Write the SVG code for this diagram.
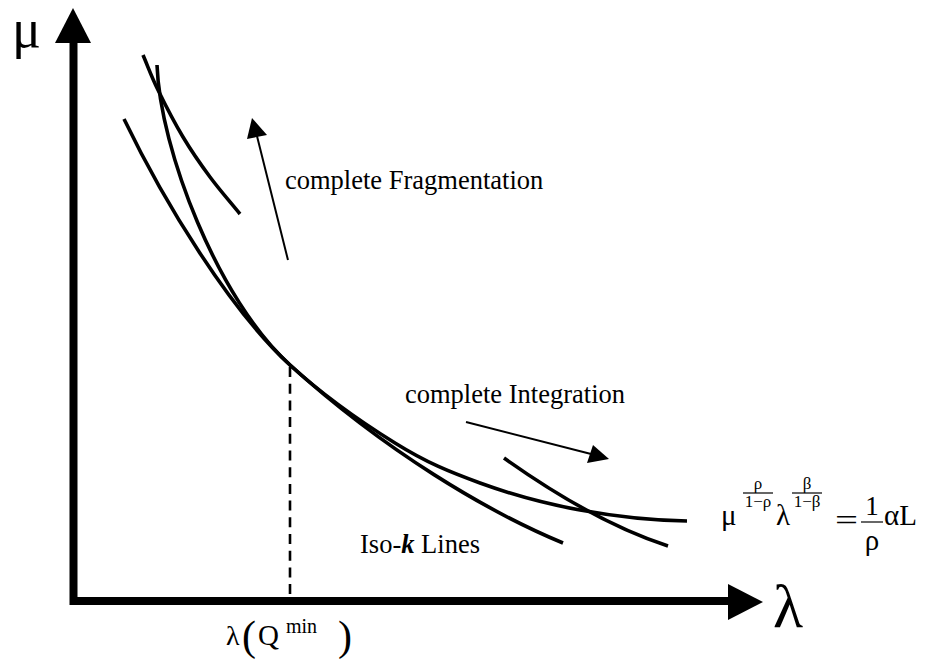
<svg xmlns="http://www.w3.org/2000/svg" width="930" height="659" viewBox="0 0 930 659">
<style>
.t{font-family:"Liberation Serif","Times New Roman",serif;fill:#000}
.crv{fill:none;stroke:#000;stroke-width:3.6;stroke-linecap:butt}
.ax{fill:none;stroke:#000;stroke-width:8}
.thin{fill:none;stroke:#000;stroke-width:2}
.bar{stroke:#000;stroke-width:1.2}
</style>
<rect width="930" height="659" fill="#fff"/>
<g id="axes">
<path class="ax" d="M73.5,43 V605 M70,601 H730"/>
<polygon points="73,8 55,43 91,43" fill="#000"/>
<polygon points="763,602 728,584 728,620" fill="#000"/>
<text class="t" x="12" y="47" font-size="54">μ</text>
<text class="t" x="773" y="627" font-size="62">λ</text>
</g>
<g id="connectors">
<path id="main-curve" class="crv" d="M157,65 C160,150 218,300 290,365 C325,397 363.3,423.3 395,443 C426.7,462.7 449.2,471.8 480,483 C510.8,494.2 545.5,503.7 580,510 C614.5,516.3 651,520.5 687,521"/>
<path id="iso-k-tangent" class="crv" d="M124,119 C164,202 230,310 290,365 C385,451 488,512 563,543"/>
<path id="iso-k-fragmentation" class="crv" d="M143,55 C148,66.7 151.3,76.3 158,90 C164.7,103.7 174.3,122.5 183,137 C191.7,151.5 200.5,164.2 210,177 C219.5,189.8 230,201.7 240,214"/>
<path id="iso-k-integration" class="crv" d="M504,458 Q594,522 668,546"/>
<path id="qmin-dash" fill="none" stroke="#000" stroke-width="2.6" stroke-dasharray="10,6.7" d="M290,367 V597"/>
<path id="arrow-fragmentation" class="thin" d="M288,260 L256,132"/>
<polygon points="252,118 247,139 267,135" fill="#000"/>
<path id="arrow-integration" class="thin" d="M466,422 L595,455"/>
<polygon points="609,459 593,445 587,463" fill="#000"/>
</g>
<g id="label-fragmentation"><text class="t" x="285" y="189" font-size="26.5">complete Fragmentation</text></g>
<g id="label-integration"><text class="t" x="405" y="403" font-size="26.5">complete Integration</text></g>
<g id="label-isok"><text class="t" x="360" y="553" font-size="26.5">Iso-<tspan font-weight="bold" font-style="italic">k</tspan> Lines</text></g>
<g id="label-qmin">
<text class="t" x="226" y="645" font-size="28">λ</text>
<text class="t" x="242" y="650" font-size="42">(</text>
<text class="t" x="258" y="645" font-size="29">Q</text>
<text class="t" x="286" y="633" font-size="20">min</text>
<text class="t" x="338" y="650" font-size="42">)</text>
</g>
<g id="formula">
<text class="t" x="721" y="525" font-size="29">μ</text>
<text class="t" x="758" y="489" font-size="17" text-anchor="middle">ρ</text>
<line class="bar" x1="743" y1="493" x2="773" y2="493"/>
<text class="t" x="758" y="507" font-size="17" text-anchor="middle">1−ρ</text>
<text class="t" x="776" y="525" font-size="29">λ</text>
<text class="t" x="807" y="489" font-size="17" text-anchor="middle">β</text>
<line class="bar" x1="792" y1="493" x2="822" y2="493"/>
<text class="t" x="807" y="507" font-size="17" text-anchor="middle">1−β</text>
<text class="t" x="835" y="530" font-size="30" textLength="23" lengthAdjust="spacingAndGlyphs">=</text>
<text class="t" x="872" y="515" font-size="27" text-anchor="middle">1</text>
<line class="bar" x1="861" y1="522" x2="883" y2="522"/>
<text class="t" x="872" y="550" font-size="29" text-anchor="middle">ρ</text>
<text class="t" x="884" y="525" font-size="29">αL</text>
</g>
</svg>
